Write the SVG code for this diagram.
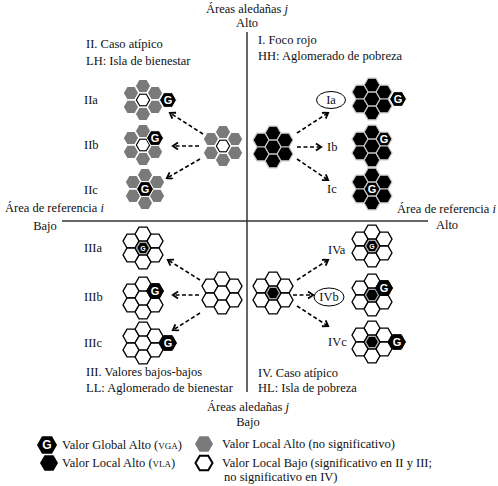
<svg xmlns="http://www.w3.org/2000/svg" xmlns:xlink="http://www.w3.org/1999/xlink" width="498" height="486" viewBox="0 0 498 486">
<style>
text{font-family:"Liberation Serif","Times New Roman",serif;font-size:12.5px;fill:#111}
.sc{font-size:9px}
.gl{font-family:"Liberation Sans",Arial,sans-serif;font-weight:bold;font-size:11px;fill:#fff;text-anchor:middle}
.gs{font-size:7px}
.gr{fill:#7a7a7a;stroke:#fff;stroke-width:1.5}
.bk{fill:#000;stroke:#c8c8c8;stroke-width:1.2}
.wh{fill:#fff;stroke:#000;stroke-width:1.3}
.axis{stroke:#333;stroke-width:1.5;fill:none}
.arr{stroke:#000;stroke-width:1.6;stroke-dasharray:4 2.5;fill:none;marker-end:url(#ah)}
.mid{text-anchor:middle}
</style>
<defs>
<polygon id="h" points="8,0 4,6.93 -4,6.93 -8,0 -4,-6.93 4,-6.93"/>
<polygon id="hs" points="5.8,0 2.9,5.02 -2.9,5.02 -5.8,0 -2.9,-5.02 2.9,-5.02"/>
<polygon id="hg" points="8.5,0 4.25,7.36 -4.25,7.36 -8.5,0 -4.25,-7.36 4.25,-7.36"/>
<g id="ring">
<use href="#h" x="0" y="-13.86"/><use href="#h" x="0" y="13.86"/>
<use href="#h" x="12" y="-6.93"/><use href="#h" x="12" y="6.93"/>
<use href="#h" x="-12" y="-6.93"/><use href="#h" x="-12" y="6.93"/>
</g>
<g id="grayC">
<g class="gr"><use href="#ring"/><use href="#h"/></g>
<polygon points="6.6,0 3.3,5.72 -3.3,5.72 -6.6,0 -3.3,-5.72 3.3,-5.72" fill="#fff" stroke="#000" stroke-width="1.1"/>
</g>
<g id="blackC" class="bk"><use href="#ring"/><use href="#h"/></g>
<g id="whiteC" class="wh"><use href="#ring"/><use href="#h"/></g>
<g id="whiteBC"><g class="wh"><use href="#ring"/></g><use href="#h" fill="#aaa" stroke="#000" stroke-width="1.3"/><use href="#hs" fill="#000"/></g>
<g id="whiteGC"><g class="wh"><use href="#ring"/></g><use href="#h" fill="#aaa" stroke="#000" stroke-width="1.3"/><use href="#hs" fill="#fff"/></g>
<marker id="ah" markerWidth="10" markerHeight="10" refX="6" refY="4" orient="auto" markerUnits="userSpaceOnUse">
<path d="M1,0.5 L6.2,4 L1,7.5" fill="none" stroke="#000" stroke-width="1.8"/>
</marker>
</defs>

<g id="axes">
<line class="axis" x1="247" y1="32" x2="247" y2="392"/>
<line class="axis" x1="62" y1="221" x2="428" y2="221"/>
<text class="mid" x="247" y="13">Áreas aledañas <tspan font-style="italic">j</tspan></text>
<text class="mid" x="247" y="27">Alto</text>
<text x="5" y="212">Área de referencia <tspan font-style="italic">i</tspan></text>
<text class="mid" x="45" y="230">Bajo</text>
<text x="397" y="213">Área de referencia <tspan font-style="italic">i</tspan></text>
<text class="mid" x="447" y="229">Alto</text>
<text class="mid" x="248" y="411">Áreas aledañas <tspan font-style="italic">j</tspan></text>
<text class="mid" x="248" y="426">Bajo</text>
</g>

<g id="quadII">
<text x="86" y="48">II. Caso atípico</text>
<text x="86" y="65">LH: Isla de bienestar</text>
<text x="84" y="104">IIa</text>
<text x="84" y="149">IIb</text>
<text x="84" y="194">IIc</text>
</g>
<g id="srcII"><use href="#grayC" x="223" y="146"/></g>
<g id="IIa"><use href="#grayC" x="143" y="100"/>
<use href="#hg" x="168" y="100" fill="#000" stroke="#fff" stroke-width="1"/><text class="gl" x="168" y="104">G</text></g>
<g id="IIb"><use href="#grayC" x="143" y="145"/>
<use href="#hg" x="155" y="138.07" fill="#000" stroke="#fff" stroke-width="1"/><text class="gl" x="155" y="142">G</text></g>
<g id="IIc"><use href="#grayC" x="145" y="189"/>
<use href="#hg" x="145" y="189" fill="#000" stroke="#fff" stroke-width="1"/><text class="gl" x="145" y="193">G</text></g>

<g id="quadI">
<text x="258" y="44">I. Foco rojo</text>
<text x="258" y="60">HH: Aglomerado de pobreza</text>
<text class="mid" x="331" y="104">Ia</text>
<text x="327" y="151">Ib</text>
<text x="327" y="193">Ic</text>
</g>
<g id="ellIa"><ellipse cx="331" cy="100" rx="14.5" ry="8.5" fill="none" stroke="#000" stroke-width="1"/></g>
<g id="srcI"><use href="#blackC" x="273" y="147"/></g>
<g id="Ia"><use href="#blackC" x="372" y="99"/>
<use href="#hg" x="398" y="99" fill="#000" stroke="#fff" stroke-width="1"/><text class="gl" x="398" y="103">G</text></g>
<g id="Ib"><use href="#blackC" x="372" y="146"/>
<text class="gl" x="384" y="143">G</text></g>
<g id="Ic"><use href="#blackC" x="372" y="189"/>
<text class="gl" x="372" y="193">G</text></g>

<g id="quadIII">
<text x="84" y="252">IIIa</text>
<text x="84" y="301">IIIb</text>
<text x="84" y="347">IIIc</text>
<text x="86" y="376">III. Valores bajos-bajos</text>
<text x="86" y="392">LL: Aglomerado de bienestar</text>
</g>
<g id="srcIII"><use href="#whiteC" x="222" y="293"/></g>
<g id="IIIa"><use href="#whiteGC" x="143" y="248"/>
<use href="#hs" x="143" y="248" fill="#000"/><text class="gl gs" x="143" y="250.5">G</text></g>
<g id="IIIb"><use href="#whiteC" x="143" y="298"/>
<use href="#hg" x="155" y="291.07" fill="#000" stroke="#000" stroke-width="1"/><text class="gl" x="155" y="295">G</text></g>
<g id="IIIc"><use href="#whiteC" x="143" y="343"/>
<use href="#hg" x="168" y="343" fill="#000" stroke="#000" stroke-width="1"/><text class="gl" x="168" y="347">G</text></g>

<g id="quadIV">
<text x="328" y="254">IVa</text>
<text class="mid" x="329" y="301">IVb</text>
<text x="328" y="346">IVc</text>
<text x="258" y="377">IV. Caso atípico</text>
<text x="258" y="392">HL: Isla de pobreza</text>
</g>
<g id="ellIVb"><ellipse cx="329" cy="297" rx="15" ry="9" fill="none" stroke="#000" stroke-width="1"/></g>
<g id="srcIV"><use href="#whiteBC" x="273" y="293"/></g>
<g id="IVa"><use href="#whiteGC" x="372" y="246"/>
<use href="#hs" x="372" y="246" fill="#000"/><text class="gl gs" x="372" y="248.5">G</text></g>
<g id="IVb"><use href="#whiteBC" x="372" y="295"/>
<use href="#hg" x="384" y="288.07" fill="#000" stroke="#000" stroke-width="1"/><text class="gl" x="384" y="292">G</text></g>
<g id="IVc"><use href="#whiteBC" x="372" y="342"/>
<use href="#hg" x="397" y="342" fill="#000" stroke="#000" stroke-width="1"/><text class="gl" x="397" y="346">G</text></g>

<g id="connectors">
<line class="arr" x1="203" y1="134" x2="170" y2="113"/>
<line class="arr" x1="199" y1="146" x2="173" y2="146"/>
<line class="arr" x1="200" y1="159" x2="167" y2="178"/>
<line class="arr" x1="297" y1="133" x2="328" y2="113"/>
<line class="arr" x1="297" y1="147" x2="321" y2="147"/>
<line class="arr" x1="297" y1="159" x2="328" y2="180"/>
<line class="arr" x1="200" y1="280" x2="168" y2="260"/>
<line class="arr" x1="199" y1="295" x2="173" y2="295"/>
<line class="arr" x1="200" y1="313" x2="173" y2="330"/>
<line class="arr" x1="297" y1="280" x2="328" y2="260"/>
<line class="arr" x1="293" y1="295" x2="313" y2="295"/>
<line class="arr" x1="297" y1="306" x2="328" y2="326"/>
</g>

<g id="legend">
<polygon points="57,445 52,453.66 42,453.66 37,445 42,436.34 52,436.34" fill="#000"/>
<text class="gl" style="font-size:12px" x="47" y="449.3">G</text>
<text x="62" y="449">Valor Global Alto (<tspan class="sc">VGA</tspan>)</text>
<polygon points="58,463 53.5,470.8 44.5,470.8 40,463 44.5,455.2 53.5,455.2" fill="#000"/>
<text x="62" y="467">Valor Local Alto (<tspan class="sc">VLA</tspan>)</text>
<polygon points="213,444 208.5,451.8 199.5,451.8 195,444 199.5,436.2 208.5,436.2" fill="#7a7a7a"/>
<text x="222" y="448">Valor Local Alto (no significativo)</text>
<polygon points="212.5,463 208.25,470.36 199.75,470.36 195.5,463 199.75,455.64 208.25,455.64" fill="#fff" stroke="#000" stroke-width="2"/>
<text x="222" y="467">Valor Local Bajo (significativo en II y III;</text>
<text x="224" y="481">no significativo en IV)</text>
</g>
</svg>
